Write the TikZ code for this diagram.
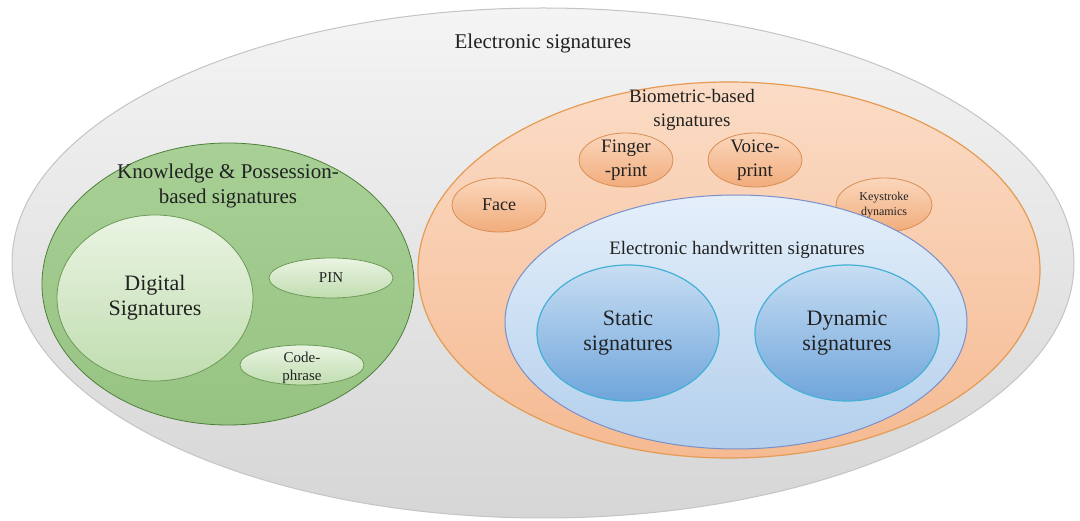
\documentclass[tikz,border=0pt]{standalone}
\usepackage{fontspec}
\setmainfont{Liberation Serif}
\usetikzlibrary{shapes.geometric}

\definecolor{txtgray}{HTML}{222222}
\definecolor{outerfill}{HTML}{F4F4F4}
\definecolor{outerdark}{HTML}{D6D6D6}
\definecolor{outerline}{HTML}{C4C4C4}
\definecolor{greenfill}{HTML}{A8D096}
\definecolor{greendark}{HTML}{96C382}
\definecolor{greenline}{HTML}{4F7F3A}
\definecolor{greenlite}{HTML}{EAF4E3}
\definecolor{greenmid}{HTML}{C0DDAF}
\definecolor{greenitemline}{HTML}{6D9A58}
\definecolor{orangefill}{HTML}{FBDCC6}
\definecolor{orangedark}{HTML}{F5BA92}
\definecolor{orangeline}{HTML}{E59B53}
\definecolor{orangelite}{HTML}{FBD7BC}
\definecolor{orangemid}{HTML}{F1AC7C}
\definecolor{orangeitemline}{HTML}{D98E52}
\definecolor{bluefill}{HTML}{E4EFFA}
\definecolor{bluedark}{HTML}{B3CFEC}
\definecolor{blueline}{HTML}{7B8FC9}
\definecolor{bluelite}{HTML}{C8DEF3}
\definecolor{bluemid}{HTML}{6FA5DB}
\definecolor{blueitemline}{HTML}{45B0D6}

\begin{document}
\begin{tikzpicture}[x=1pt,y=-1pt]
        \tikzstyle{every node}=[text=txtgray,align=center,inner sep=0pt]
        \tikzstyle{outerset}=[ellipse,draw=outerline,line width=1pt,top color=outerfill,bottom color=outerdark]
        \tikzstyle{greenset}=[ellipse,draw=greenline,line width=0.8pt,top color=greenfill,bottom color=greendark]
        \tikzstyle{greenitem}=[ellipse,draw=greenitemline,line width=0.8pt,top color=greenlite,bottom color=greenmid]
        \tikzstyle{orangeset}=[ellipse,draw=orangeline,line width=1.2pt,top color=orangefill,bottom color=orangedark]
        \tikzstyle{orangeitem}=[ellipse,draw=orangeitemline,line width=0.8pt,top color=orangelite,bottom color=orangemid]
        \tikzstyle{blueset}=[ellipse,draw=blueline,line width=1pt,top color=bluefill,bottom color=bluedark]
        \tikzstyle{blueitem}=[ellipse,draw=blueitemline,line width=1.2pt,top color=bluelite,bottom color=bluemid]
        \tikzstyle{hugefont}=[font=\fontsize{22}{25}\selectfont]
        \tikzstyle{bigfont}=[font=\fontsize{21}{25}\selectfont]
        \tikzstyle{midfont}=[font=\fontsize{19}{24}\selectfont]
        \tikzstyle{smallfont}=[font=\fontsize{15}{18}\selectfont]

        \useasboundingbox[fill=white] (0,0) rectangle (1080,521);

        % electronic signatures
        \node[outerset,minimum width=1062,minimum height=510] (esig) at (543,263) {};
        \node[bigfont] (esigtitle) at (543,43) {Electronic signatures};

        % knowledge and possession based
        \node[greenset,minimum width=372,minimum height=282] (knowledge) at (228,284) {};
        \node[bigfont] (knowledgetitle) at (228,186) {Knowledge \& Possession-\\based signatures};
        \node[greenitem,minimum width=196,minimum height=166] (digital) at (155,298) {};
        \node[hugefont] (digitaltext) at (digital) {Digital\\Signatures};
        \node[greenitem,minimum width=124,minimum height=40] (pin) at (331,278) {};
        \node[smallfont] (pintext) at (pin) {PIN};
        \node[greenitem,minimum width=124,minimum height=40] (codephrase) at (302,365) {};
        \node[smallfont] (codephrasetext) at ([yshift=-3]codephrase) {Code-\\phrase};

        % biometric based
        \node[orangeset,minimum width=622,minimum height=376] (biometric) at (729,270) {};
        \node[midfont] (biometrictitle) at (692,110) {Biometric-based\\signatures};
        \node[orangeitem,minimum width=94,minimum height=54] (finger) at (626,160) {};
        \node[midfont] (fingertext) at (finger) {Finger\\-print};
        \node[orangeitem,minimum width=94,minimum height=54] (voice) at (755,160) {};
        \node[midfont] (voicetext) at (voice) {Voice-\\print};
        \node[orangeitem,minimum width=94,minimum height=54] (face) at (499,205) {};
        \node[font=\fontsize{18}{22}\selectfont] (facetext) at (face) {Face};
        \node[orangeitem,minimum width=96,minimum height=54] (keystroke) at (884,205) {};
        \node[font=\fontsize{12}{15}\selectfont] (keystroketext) at (keystroke) {Keystroke\\dynamics};

        % electronic handwritten
        \node[blueset,minimum width=462,minimum height=254] (handwritten) at (736,322) {};
        \node[midfont] (handwrittentitle) at (737,250) {Electronic handwritten signatures};
        \node[blueitem,minimum width=182,minimum height=136] (static) at (628,333) {};
        \node[hugefont] (statictext) at (static) {Static\\signatures};
        \node[blueitem,minimum width=184,minimum height=136] (dynamic) at (847,333) {};
        \node[hugefont] (dynamictext) at (dynamic) {Dynamic\\signatures};

    \end{tikzpicture}
\end{document}
